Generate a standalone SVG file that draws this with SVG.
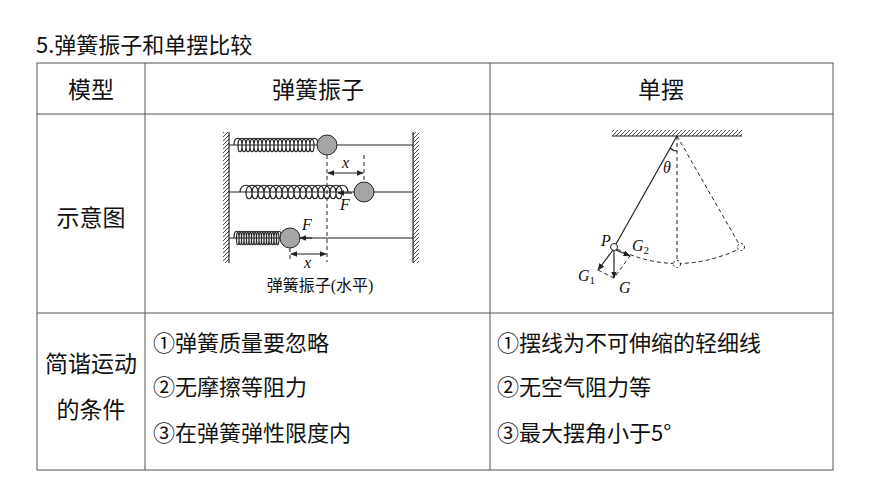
<svg xmlns="http://www.w3.org/2000/svg" width="870" height="489" viewBox="0 0 870 489">
<defs>
<style>
.t{font-family:"Noto Sans CJK SC","Liberation Sans",sans-serif;fill:#111}
.s{font-family:"Liberation Serif","Noto Sans CJK SC",serif;fill:#111}
.i{font-family:"Liberation Serif",serif;font-style:italic;fill:#111}
.ln{stroke:#222;stroke-width:1.2;fill:none}
.d{stroke:#222;stroke-width:1;fill:none;stroke-dasharray:4 3}
.ball{fill:#a6a6a6;stroke:#222;stroke-width:1}
</style>
<marker id="a" viewBox="0 0 10 10" refX="9" refY="5" markerWidth="6" markerHeight="6" orient="auto-start-reverse"><path d="M0,1 L10,5 L0,9 z" fill="#222"/></marker>
<pattern id="h" width="4" height="4" patternUnits="userSpaceOnUse"><path d="M0,4 L4,0" stroke="#222" stroke-width="0.8"/></pattern>
</defs>
<rect width="870" height="489" fill="#fff"/>
<text class="t" x="36" y="53" font-size="22">5.弹簧振子和单摆比较</text>
<g id="table" stroke="#555" stroke-width="1" fill="none">
<rect x="37" y="63" width="796" height="407"/>
<line x1="37" y1="114" x2="833" y2="114"/>
<line x1="37" y1="313" x2="833" y2="313"/>
<line x1="145" y1="63" x2="145" y2="470"/>
<line x1="490" y1="63" x2="490" y2="470"/>
</g>
<g id="headers" font-size="23">
<text class="t" x="91" y="98" text-anchor="middle">模型</text>
<text class="t" x="318" y="98" text-anchor="middle">弹簧振子</text>
<text class="t" x="661" y="98" text-anchor="middle">单摆</text>
<text class="t" x="91" y="226" text-anchor="middle">示意图</text>
<text class="t" x="91" y="372" text-anchor="middle">简谐运动</text>
<text class="t" x="91" y="418" text-anchor="middle">的条件</text>
</g>
<g id="spring-conds" font-size="22">
<text class="t" x="153" y="351">①弹簧质量要忽略</text>
<text class="t" x="153" y="395">②无摩擦等阻力</text>
<text class="t" x="153" y="441">③在弹簧弹性限度内</text>
</g>
<g id="pend-conds" font-size="22">
<text class="t" x="497" y="351">①摆线为不可伸缩的轻细线</text>
<text class="t" x="497" y="395">②无空气阻力等</text>
<text class="t" x="497" y="441">③最大摆角小于5°</text>
</g>
<g id="spring-fig">
<rect x="223" y="132" width="6" height="131" fill="url(#h)"/>
<rect x="413" y="132" width="6" height="131" fill="url(#h)"/>
<line class="ln" x1="229" y1="132" x2="229" y2="263"/>
<line class="ln" x1="413" y1="132" x2="413" y2="263"/>
<line class="ln" x1="229" y1="145" x2="413" y2="145"/>
<line class="ln" x1="229" y1="192" x2="413" y2="192"/>
<line class="ln" x1="229" y1="238" x2="413" y2="238"/>
<path class="ln" d="M234,145 c0,-9 8,-9 8,0 c0,9 -4,9 -4,0 c0,-9 8,-9 8,0 c0,9 -4,9 -4,0 c0,-9 8,-9 8,0 c0,9 -4,9 -4,0 c0,-9 8,-9 8,0 c0,9 -4,9 -4,0 c0,-9 8,-9 8,0 c0,9 -4,9 -4,0 c0,-9 8,-9 8,0 c0,9 -4,9 -4,0 c0,-9 8,-9 8,0 c0,9 -4,9 -4,0 c0,-9 8,-9 8,0 c0,9 -4,9 -4,0 c0,-9 8,-9 8,0 c0,9 -4,9 -4,0 c0,-9 8,-9 8,0 c0,9 -4,9 -4,0 c0,-9 8,-9 8,0 c0,9 -4,9 -4,0 c0,-9 8,-9 8,0 c0,9 -4,9 -4,0 c0,-9 8,-9 8,0 c0,9 -4,9 -4,0 c0,-9 8,-9 8,0 c0,9 -4,9 -4,0 c0,-9 8,-9 8,0 c0,9 -4,9 -4,0 c0,-9 8,-9 8,0 c0,9 -4,9 -4,0 c0,-9 8,-9 8,0 c0,9 -4,9 -4,0 c0,-9 8,-9 8,0 c0,9 -4,9 -4,0 c0,-9 8,-9 8,0 c0,9 -4,9 -4,0 c0,-9 8,-9 8,0"/>
<path class="ln" d="M240,192 c0,-9 12,-9 12,0 c0,9 -6,9 -6,0 c0,-9 12,-9 12,0 c0,9 -6,9 -6,0 c0,-9 12,-9 12,0 c0,9 -6,9 -6,0 c0,-9 12,-9 12,0 c0,9 -6,9 -6,0 c0,-9 12,-9 12,0 c0,9 -6,9 -6,0 c0,-9 12,-9 12,0 c0,9 -6,9 -6,0 c0,-9 12,-9 12,0 c0,9 -6,9 -6,0 c0,-9 12,-9 12,0 c0,9 -6,9 -6,0 c0,-9 12,-9 12,0 c0,9 -6,9 -6,0 c0,-9 12,-9 12,0 c0,9 -6,9 -6,0 c0,-9 12,-9 12,0 c0,9 -6,9 -6,0 c0,-9 12,-9 12,0 c0,9 -6,9 -6,0 c0,-9 12,-9 12,0 c0,9 -6,9 -6,0 c0,-9 12,-9 12,0 c0,9 -6,9 -6,0 c0,-9 12,-9 12,0 c0,9 -6,9 -6,0 c0,-9 12,-9 12,0 c0,9 -6,9 -6,0 c0,-9 12,-9 12,0"/>
<path class="ln" d="M234,238 c0,-9 5,-9 5,0 c0,9 -2.5,9 -2.5,0 c0,-9 5,-9 5,0 c0,9 -2.5,9 -2.5,0 c0,-9 5,-9 5,0 c0,9 -2.5,9 -2.5,0 c0,-9 5,-9 5,0 c0,9 -2.5,9 -2.5,0 c0,-9 5,-9 5,0 c0,9 -2.5,9 -2.5,0 c0,-9 5,-9 5,0 c0,9 -2.5,9 -2.5,0 c0,-9 5,-9 5,0 c0,9 -2.5,9 -2.5,0 c0,-9 5,-9 5,0 c0,9 -2.5,9 -2.5,0 c0,-9 5,-9 5,0 c0,9 -2.5,9 -2.5,0 c0,-9 5,-9 5,0 c0,9 -2.5,9 -2.5,0 c0,-9 5,-9 5,0 c0,9 -2.5,9 -2.5,0 c0,-9 5,-9 5,0 c0,9 -2.5,9 -2.5,0 c0,-9 5,-9 5,0 c0,9 -2.5,9 -2.5,0 c0,-9 5,-9 5,0 c0,9 -2.5,9 -2.5,0 c0,-9 5,-9 5,0 c0,9 -2.5,9 -2.5,0 c0,-9 5,-9 5,0 c0,9 -2.5,9 -2.5,0 c0,-9 5,-9 5,0 c0,9 -2.5,9 -2.5,0 c0,-9 5,-9 5,0"/>
<circle class="ball" cx="327" cy="145" r="10"/>
<circle class="ball" cx="364" cy="192" r="10"/>
<circle class="ball" cx="290" cy="238" r="10"/>
<line class="d" x1="327" y1="155" x2="327" y2="262"/>
<line class="d" x1="364" y1="155" x2="364" y2="182"/>
<line class="d" x1="290" y1="248" x2="290" y2="262"/>
<line class="ln" x1="328" y1="173" x2="363" y2="173" marker-start="url(#a)" marker-end="url(#a)"/>
<line class="ln" x1="291" y1="254" x2="326" y2="254" marker-start="url(#a)" marker-end="url(#a)"/>
<line class="ln" x1="352" y1="193" x2="338" y2="193" marker-end="url(#a)"/>
<line class="ln" x1="312" y1="238" x2="300" y2="238" marker-end="url(#a)"/>
<text class="i" x="342" y="168" font-size="16">x</text>
<text class="i" x="304" y="268" font-size="16">x</text>
<text class="i" x="340" y="210" font-size="16">F</text>
<text class="i" x="302" y="230" font-size="16">F</text>
<text class="s" x="320" y="291" font-size="16" text-anchor="middle">弹簧振子(水平)</text>
</g>
<g id="pendulum-fig">
<rect x="612" y="130" width="130" height="6" fill="url(#h)"/>
<line class="ln" x1="612" y1="136" x2="742" y2="136"/>
<line class="ln" x1="677" y1="136" x2="616" y2="244"/>
<line class="d" x1="677" y1="136" x2="677" y2="261"/>
<line class="d" x1="677" y1="136" x2="739" y2="244"/>
<path class="d" d="M617,249 Q677,278 739,249"/>
<path class="ln" d="M670,148 Q673,151 677,151"/>
<line class="ln" x1="614" y1="250" x2="614" y2="278" marker-end="url(#a)"/>
<line class="ln" x1="613" y1="250" x2="598" y2="270" marker-end="url(#a)"/>
<line class="ln" x1="616" y1="250" x2="630" y2="256" marker-end="url(#a)"/>
<path class="d" d="M598,270 L614,278 L630,256"/>
<circle cx="614" cy="247" r="3.5" fill="#fff" stroke="#222"/>
<circle cx="677" cy="264" r="3.5" fill="#fff" stroke="#222" stroke-dasharray="2 2"/>
<circle cx="741" cy="247" r="3.5" fill="#fff" stroke="#222" stroke-dasharray="2 2"/>
<text class="i" x="663" y="173" font-size="16">θ</text>
<text class="i" x="601" y="246" font-size="16">P</text>
<text class="i" x="632" y="251" font-size="16">G<tspan font-size="11" dy="3" font-style="normal">2</tspan></text>
<text class="i" x="578" y="281" font-size="16">G<tspan font-size="11" dy="3" font-style="normal">1</tspan></text>
<text class="i" x="619" y="293" font-size="16">G</text>
</g>
</svg>
